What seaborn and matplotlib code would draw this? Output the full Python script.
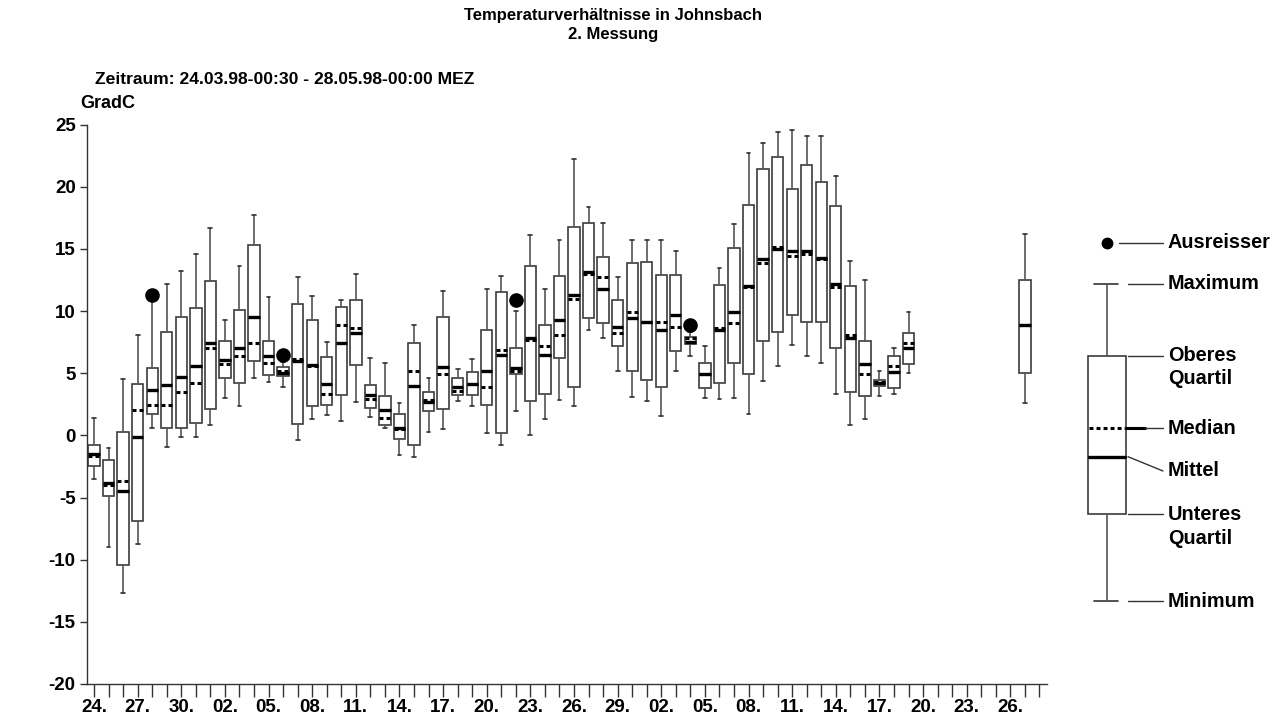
import matplotlib
matplotlib.use("Agg")
import matplotlib.pyplot as plt
from matplotlib.patches import Rectangle
import numpy as np
import pandas as pd
import seaborn as sns

# ---- data: daily temperature statistics (GradC) ----
period_start = pd.Timestamp("1998-03-24")
period_end = pd.Timestamp("1998-05-28")
box_days = list(pd.date_range("1998-03-24", "1998-05-19")) + [pd.Timestamp("1998-05-27")]

w_lo = [-3.5, -9.0, -12.7, -8.7, 0.6, -0.9, -0.1, -0.1, 0.8, 3.0,
        2.4, 4.65, 4.3, 3.85, -0.35, 1.3, 1.6, 1.15, 2.7, 1.5,
        0.6, -1.6, -1.75, 0.3, 0.55, 2.8, 2.4, 0.2, -0.75, 1.95,
        0.0, 1.35, 2.85, 2.4, 8.45, 7.85, 5.2, 3.1, 2.8, 1.55,
        5.2, 6.4, 3.0, 2.95, 3.0, 1.75, 4.4, 5.6, 7.3, 6.35,
        5.8, 3.35, 0.85, 1.35, 3.2, 3.35, 5.05, 2.6]
q1 = [-2.5, -4.85, -10.45, -6.9, 1.75, 0.6, 0.6, 1.0, 2.15, 4.6,
      4.25, 6.0, 4.85, 4.8, 0.95, 2.35, 2.45, 3.25, 5.65, 2.2,
      0.85, -0.3, -0.8, 1.95, 2.15, 3.25, 3.25, 2.45, 0.2, 4.95,
      2.8, 3.3, 6.25, 3.85, 9.4, 9.0, 7.2, 5.2, 4.45, 3.9,
      6.75, 7.35, 3.8, 4.25, 5.8, 4.95, 7.55, 8.35, 9.65, 9.15,
      9.15, 7.0, 3.45, 3.2, 4.0, 3.8, 5.75, 5.05]
median = [-1.7, -4.0, -3.65, 2.0, 2.45, 2.45, 3.45, 4.2, 7.0, 5.7,
          6.4, 7.4, 5.85, 5.15, 6.15, 5.6, 3.35, 8.9, 8.65, 2.9,
          1.4, 0.55, 5.15, 2.85, 4.9, 3.6, 4.1, 3.9, 6.9, 5.2,
          7.7, 7.15, 8.05, 10.95, 13.0, 12.7, 8.2, 9.9, 9.15, 9.15,
          8.75, 7.8, 4.95, 8.6, 9.05, 11.95, 13.9, 15.15, 14.4, 14.55,
          14.2, 11.9, 8.1, 4.9, 4.3, 5.6, 7.4, 8.9]
mittel = [-1.5, -3.85, -4.45, -0.15, 3.65, 4.05, 4.7, 5.6, 7.4, 6.05,
          7.0, 9.5, 6.4, 5.05, 6.0, 5.65, 4.15, 7.45, 8.25, 3.25,
          2.05, 0.6, 4.0, 2.7, 5.5, 3.9, 4.15, 5.15, 6.5, 5.4,
          7.8, 6.5, 9.25, 11.25, 13.15, 11.8, 8.7, 9.4, 9.1, 8.45,
          9.65, 7.5, 4.9, 8.45, 9.9, 12.0, 14.15, 15.0, 14.8, 14.85,
          14.3, 12.15, 7.85, 5.7, 4.2, 5.1, 7.05, 8.9]
q3 = [-0.75, -1.95, 0.25, 4.1, 5.45, 8.3, 9.5, 10.25, 12.4, 7.55,
      10.05, 15.3, 7.55, 5.5, 10.6, 9.3, 6.3, 10.3, 10.85, 4.05,
      3.2, 1.7, 7.45, 3.5, 9.5, 4.6, 5.1, 8.5, 11.5, 7.0,
      13.6, 8.9, 12.8, 16.8, 17.05, 14.35, 10.9, 13.9, 13.95, 12.9,
      12.9, 7.9, 5.8, 12.1, 15.05, 18.5, 21.45, 22.4, 19.8, 21.75,
      20.35, 18.45, 12.0, 7.55, 4.45, 6.35, 8.2, 12.5]
w_hi = [1.4, -1.05, 4.55, 8.1, 10.8, 12.2, 13.2, 14.55, 16.7, 9.25,
        13.6, 17.75, 11.15, 5.9, 12.7, 11.2, 7.5, 10.9, 13.0, 6.25,
        5.8, 2.6, 8.85, 4.65, 11.6, 5.35, 6.15, 11.8, 12.8, 10.0,
        16.15, 11.75, 15.75, 22.25, 18.35, 17.1, 12.7, 15.75, 15.75, 15.75,
        14.8, 8.3, 7.2, 13.45, 17.0, 22.7, 23.5, 24.4, 24.6, 24.05,
        24.1, 20.9, 14.0, 12.5, 5.2, 7.0, 9.95, 16.2]
ausreisser = {"1998-03-28": [11.3], "1998-04-06": [6.5],
              "1998-04-22": [10.9], "1998-05-04": [8.9]}

title_text = "Temperaturverhältnisse in Johnsbach\n2. Messung"
period_text = "Zeitraum: 24.03.98-00:30 - 28.05.98-00:00 MEZ"
unit_text = "GradC"
key_labels = ["Ausreisser", "Maximum", "Oberes\nQuartil", "Median",
              "Mittel", "Unteres\nQuartil", "Minimum"]

# ---- style ----
sns.set_theme(style="white")
plt.rcParams["font.family"] = ["Liberation Sans", "DejaVu Sans"]
plt.rcParams["font.weight"] = "bold"
plt.rcParams["axes.unicode_minus"] = False
plt.rcParams["text.color"] = "black"
plt.rcParams["xtick.color"] = "black"
plt.rcParams["ytick.color"] = "black"

ink = "#000000"
edge = "#3c3c3c"

fig = plt.figure(figsize=(12.74, 7.2), dpi=100)
ax = fig.add_axes([0.0681, 0.05, 0.7535, 0.777])

positions = [(d - period_start).days for d in box_days]
stats = []
for i, d in enumerate(box_days):
    stats.append(dict(whislo=w_lo[i], q1=q1[i], med=median[i], mean=mittel[i],
                      q3=q3[i], whishi=w_hi[i],
                      fliers=np.array(ausreisser.get(d.strftime("%Y-%m-%d"), []))))

ax.bxp(stats, positions=positions, widths=0.78, capwidths=0.26,
       showmeans=True, meanline=True, showfliers=True, patch_artist=True,
       manage_ticks=False,
       boxprops=dict(facecolor="white", edgecolor=edge, linewidth=1.2),
       whiskerprops=dict(color="#555555", linewidth=1.2),
       capprops=dict(color="#333333", linewidth=1.2),
       medianprops=dict(color=ink, linewidth=2.2, linestyle=(0, (1.3, 1.0)), zorder=3),
       meanprops=dict(color=ink, linewidth=2.4, linestyle="-", zorder=3.2),
       flierprops=dict(marker="o", markerfacecolor=ink, markeredgecolor=ink,
                       markersize=9.5))

# ---- axes ----
n_days = (period_end - period_start).days + 1
all_days = pd.date_range(period_start, period_end)
ax.set_xlim(-0.5, n_days - 0.5)
ax.set_ylim(-20, 25)
ax.set_yticks(np.arange(-20, 26, 5))
ax.set_xticks(np.arange(0, n_days, 3))
ax.set_xticklabels([d.strftime("%d.") for d in all_days[::3]])
ax.set_xticks(np.arange(n_days), minor=True)
ax.tick_params(axis="x", which="both", direction="out", length=9, width=1,
               color="#333333", labelcolor=ink, bottom=True, pad=2, labelsize=13.5)
ax.tick_params(axis="y", direction="out", length=5, width=1, color="#333333",
               labelcolor=ink, left=True, pad=3, labelsize=13.5)
for lab in ax.get_xticklabels() + ax.get_yticklabels():
    lab.set_fontweight("bold")
for s in ("top", "right"):
    ax.spines[s].set_visible(False)
for s in ("left", "bottom"):
    ax.spines[s].set_color("#333333")
    ax.spines[s].set_linewidth(1.0)
ax.grid(False)

# ---- header texts ----
fig.text(0.481, 0.989, title_text, ha="center", va="top", color=ink,
         fontsize=12, fontweight="bold", linespacing=1.3)
fig.text(95 / 1274, 1 - 80 / 720, period_text, ha="left", va="center", color=ink,
         fontsize=12.6, fontweight="bold")
fig.text(80 / 1274, 1 - 103 / 720, unit_text, ha="left", va="center", color=ink,
         fontsize=13, fontweight="bold")

# ---- explanatory key (pixel layout) ----
key = fig.add_axes([0, 0, 1, 1], facecolor="none")
key.set_xlim(0, 1274)
key.set_ylim(720, 0)
key.axis("off")

bx_l, bx_r, bx_c = 1087.7, 1125.7, 1106.7
y_out, y_max, y_q3, y_med, y_mean, y_q1, y_min = 242.6, 283.6, 355.6, 428.0, 456.7, 514.2, 601.2
lead_l, lead_r, text_x = 1128, 1163, 1168
thin = dict(color="#333333", linewidth=1.0)

key.plot([bx_c], [y_out], "o", color=ink, markersize=7.5)
key.plot([1119, lead_r], [y_out, y_out], **thin)
for yy in (y_max, y_min):
    key.plot([1094, 1118], [yy, yy], color="#333333", linewidth=1.2)
    key.plot([lead_l, lead_r], [yy, yy], **thin)
key.plot([bx_c, bx_c], [y_max, y_q3], color="#555555", linewidth=1.2)
key.plot([bx_c, bx_c], [y_q1, y_min], color="#555555", linewidth=1.2)
key.add_patch(Rectangle((bx_l, y_q3), bx_r - bx_l, y_q1 - y_q3,
                        facecolor="white", edgecolor=edge, linewidth=1.2))
key.plot([bx_l + 1, bx_r - 1], [y_med, y_med], color=ink, linewidth=2.2,
         linestyle=(0, (1.3, 1.0)))
key.plot([bx_r, 1145], [y_med, y_med], color=ink, linewidth=2.2)
key.plot([1145, lead_r], [y_med, y_med], **thin)
key.plot([bx_l + 1, bx_r - 1], [y_mean, y_mean], color=ink, linewidth=2.4)
key.plot([lead_l, lead_r], [y_mean, 471.0], **thin)
key.plot([lead_l, lead_r], [y_q3, y_q3], **thin)
key.plot([lead_l, lead_r], [y_q1, y_q1], **thin)

label_rows = [(y_out,), (y_max,), (y_q3, 378.0), (y_med,), (471.0,), (y_q1, 538.0), (y_min,)]
for text, rows in zip(key_labels, label_rows):
    for part, yy in zip(text.split("\n"), rows):
        key.text(text_x, yy, part, ha="left", va="center", fontsize=14.3,
                 fontweight="bold", color=ink)

fig.savefig("out.png", dpi=100, facecolor="white")
